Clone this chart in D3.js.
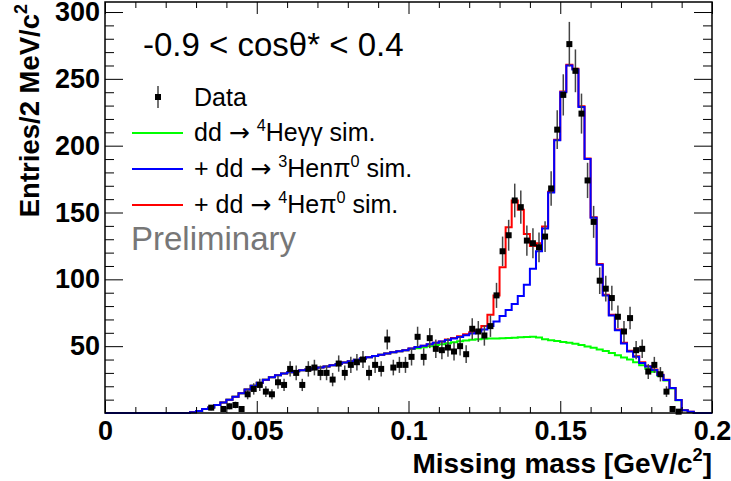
<html>
<head>
<meta charset="utf-8">
<title>Missing mass</title>
<style>
 body{margin:0;background:#fff;}
 text{font-family:'Liberation Sans', Arial, Helvetica, sans-serif;}
</style>
<script src="https://cdnjs.cloudflare.com/ajax/libs/d3/7.8.5/d3.min.js"></script>
</head>
<body>
<div id="plot"></div>
<script>
  // 100 bins of 2 MeV between 0 and 0.2 GeV
  var binWidth = 0.002, nBins = 100;

  // simulation histograms, bins 14..97 (all other bins are empty)
  var simFirstBin = 14;
  var sim4Hegg = [0.5,1.5,3,4.2,6,7.8,10,12.2,14.8,17.5,20.3,22.7,24.8,26.7,28.3,29.5,30.4,31.2,31.9,32.6,
    33.3,34,34.8,35.7,36.7,37.8,38.8,39.8,40.8,41.7,42.6,43.5,44.5,45.4,46.2,47,47.8,48.5,49.2,50,
    50.8,51.5,52.2,53,53.6,54.2,54.8,55.2,55.5,55.7,55.8,55.9,56.1,56.3,56.6,56.9,57,56.5,55.2,54.5,
    53.8,53.2,52.5,51.8,50.8,49.8,48.8,47.6,46.3,44.8,43.3,41.6,40,38,35.8,33.2,30.8,27.8,24.3,18.3,
    9.5,2,0.8,0];
  var sim3Henpi = [0.5,1.5,3,4.2,6,7.8,10,12.2,14.8,17.5,20.3,22.7,24.8,26.7,28.3,29.5,30.4,31.2,31.9,32.6,
    33.3,34,34.8,35.7,36.7,37.8,38.8,39.8,40.8,41.7,42.6,43.5,44.5,45.4,46.2,47,48.3,49.3,50.3,51.4,
    52.5,53.5,54.6,55.7,56.9,58.1,59.4,60.8,62.5,65,68.5,72.5,77,81.5,87.5,96,108,121,138,165,
    204,240,260,257,229,190,146,111,88,73,62,52,46,42,37.5,34.7,32.2,28.4,24.7,18.7,
    9.7,2,1,0];
  var sim4Hepi = [0.5,1.5,3,4.2,6,7.8,10,12.2,14.8,17.5,20.3,22.7,24.8,26.7,28.3,29.5,30.4,31.2,31.9,32.6,
    33.3,34,34.8,35.7,36.7,37.8,38.8,39.8,40.8,41.7,42.6,43.5,44.5,45.4,46.2,47,48.3,49.3,50.3,51.4,
    52.5,53.5,54.9,56.2,57.5,58.9,60.5,62,65,73.5,88,109,139,159,152,134,125,127,139.5,165.5,
    204.5,240.5,260.5,257.5,229.5,190.5,146.5,111.5,88.5,73.5,62.5,52.5,46.5,42.5,38,35,32.5,28.6,24.8,18.7,
    9.7,2,1,0];

  // data, bins 17..94 (null = empty bin)
  var dataFirstBin = 17;
  var dataCounts = [4,null,3,5,6,3,14,18,21,16,14,23,21,33,30,21,33,34,30,30,
    25,37,30,36,38,40,30,36,33,55,34,36,36,42,57,42,56,48,47,49,
    46,50,44,63,61,58,65,88,121,133,159,154,129,127,124,132,168,212,238,276,
    256,224,174,143,99,93,86,72,61,71,47,48,31,36,29,16,3,1];

  var xTicks = [0, 0.05, 0.1, 0.15, 0.2];
  var xTickLabels = ["0", "0.05", "0.1", "0.15", "0.2"];
  var yTicks = [50, 100, 150, 200, 250, 300];

  var w = 731, h = 481;
  var x = d3.scaleLinear().domain([0, 0.2]).range([105, 712]);
  var y = d3.scaleLinear().domain([0, 307.5]).range([413, 2]);

  var svg = d3.select("#plot").append("svg")
    .attr("width", w).attr("height", h);

  function fullBins(arr, first) {
    var out = [];
    for (var i = 0; i < nBins; i++) {
      var v = arr[i - first];
      out.push(v == null ? 0 : v);
    }
    return out;
  }

  var stepLine = d3.line()
    .x(function(d) { return x(d[0]); })
    .y(function(d) { return y(d[1]); })
    .curve(d3.curveStepAfter);

  function histPath(arr, color) {
    var vals = fullBins(arr, simFirstBin);
    var pts = vals.map(function(v, i) { return [i * binWidth, v]; });
    pts.push([nBins * binWidth, vals[nBins - 1]]);
    svg.append("path")
      .attr("d", stepLine(pts))
      .attr("fill", "none")
      .attr("stroke", color)
      .attr("stroke-width", 2);
  }

  histPath(sim4Hegg, "#00ff00");
  histPath(sim4Hepi, "#ff0000");
  histPath(sim3Henpi, "#0000ff");

  // data points with sqrt(N) errors
  var points = [];
  dataCounts.forEach(function(c, i) {
    if (c == null) return;
    points.push({ v: (dataFirstBin + i + 0.5) * binWidth, c: c });
  });
  var dg = svg.append("g");
  dg.selectAll("line").data(points).enter().append("line")
    .attr("x1", function(d) { return x(d.v); })
    .attr("x2", function(d) { return x(d.v); })
    .attr("y1", function(d) { return y(d.c + Math.sqrt(d.c)); })
    .attr("y2", function(d) { return y(Math.max(0, d.c - Math.sqrt(d.c))); })
    .attr("stroke", "#444").attr("stroke-width", 1.5);
  dg.selectAll("rect").data(points).enter().append("rect")
    .attr("x", function(d) { return x(d.v) - 3; })
    .attr("y", function(d) { return y(d.c) - 3; })
    .attr("width", 6).attr("height", 6)
    .attr("fill", "#000");

  // axes: ticks on all four sides, pointing inward
  var xMinor = d3.range(1, 20).filter(function(k) { return k % 5; }).map(function(k) { return k * 0.01; });
  var yMinor = d3.range(1, 31).filter(function(k) { return k % 5; }).map(function(k) { return k * 10; });

  function styleAxis(g) {
    g.select(".domain").remove();
    g.selectAll("line").attr("stroke", "#000").attr("stroke-width", 1);
    g.selectAll("text").attr("font-family", "'Liberation Sans', Arial, sans-serif")
      .attr("font-size", 27).attr("font-weight", "bold").attr("fill", "#000");
  }

  svg.append("g").attr("transform", "translate(0,413)")
    .call(d3.axisBottom(x).tickValues(xMinor).tickSizeInner(-6).tickSizeOuter(0).tickFormat(""))
    .call(styleAxis);
  svg.append("g").attr("transform", "translate(0,413)")
    .call(d3.axisBottom(x).tickValues(xTicks).tickSizeInner(-12).tickSizeOuter(0).tickPadding(8)
      .tickFormat(function(d, i) { return xTickLabels[i]; }))
    .call(styleAxis);
  svg.append("g").attr("transform", "translate(0,2)")
    .call(d3.axisTop(x).tickValues(xMinor).tickSizeInner(-6).tickSizeOuter(0).tickFormat(""))
    .call(styleAxis);
  svg.append("g").attr("transform", "translate(0,2)")
    .call(d3.axisTop(x).tickValues(xTicks).tickSizeInner(-12).tickSizeOuter(0).tickFormat(""))
    .call(styleAxis);

  svg.append("g").attr("transform", "translate(105,0)")
    .call(d3.axisLeft(y).tickValues(yMinor).tickSizeInner(-9).tickSizeOuter(0).tickFormat(""))
    .call(styleAxis);
  svg.append("g").attr("transform", "translate(105,0)")
    .call(d3.axisLeft(y).tickValues(yTicks).tickSizeInner(-18).tickSizeOuter(0).tickPadding(5))
    .call(styleAxis);
  svg.append("g").attr("transform", "translate(712,0)")
    .call(d3.axisRight(y).tickValues(yMinor).tickSizeInner(-9).tickSizeOuter(0).tickFormat(""))
    .call(styleAxis);
  svg.append("g").attr("transform", "translate(712,0)")
    .call(d3.axisRight(y).tickValues(yTicks).tickSizeInner(-18).tickSizeOuter(0).tickFormat(""))
    .call(styleAxis);

  svg.append("rect")
    .attr("x", 105).attr("y", 2).attr("width", 607).attr("height", 411)
    .attr("fill", "none").attr("stroke", "#000").attr("stroke-width", 1.5);

  // rich text: parts are [text, superscript?, font]
  function rich(sel, parts, size) {
    var spans = [];
    parts.forEach(function(p) {
      var t = sel.append("tspan").text(p[0]);
      if (p[1]) t.attr("font-size", size * 0.65).attr("dy", -size * 0.42);
      if (p[2]) t.attr("font-family", p[2]);
      spans.push(t);
    });
    for (var i = 1; i < spans.length; i++) {
      if (parts[i - 1][1] && !parts[i][1]) spans[i].attr("dy", size * 0.42);
    }
  }

  // axis titles
  var xt = svg.append("text").attr("x", 712).attr("y", 473)
    .attr("text-anchor", "end").attr("font-size", 28).attr("font-weight", "bold");
  rich(xt, [["Missing mass [GeV/c"], ["2", true], ["]"]], 28);

  var yt = svg.append("text").attr("transform", "translate(39,4) rotate(-90)")
    .attr("text-anchor", "end").attr("font-size", 27.5).attr("font-weight", "bold");
  rich(yt, [["Entries/2 MeV/c"], ["2", true]], 27.5);

  // title
  svg.append("text").attr("x", 143).attr("y", 56)
    .attr("font-size", 33).text("-0.9 < cos\u03b8* < 0.4");

  // legend
  var arrowFont = "'DejaVu Sans', sans-serif";
  svg.append("line").attr("x1", 158).attr("x2", 158).attr("y1", 86).attr("y2", 108)
    .attr("stroke", "#444").attr("stroke-width", 1.5);
  svg.append("rect").attr("x", 155).attr("y", 94).attr("width", 6).attr("height", 6).attr("fill", "#000");
  svg.append("text").attr("x", 194).attr("y", 106).attr("font-size", 25).text("Data");

  var legendRows = [
    { color: "#00ff00", y: 133, parts: [["dd "], ["\u2192", false, arrowFont], [" "], ["4", true], ["He\u03b3\u03b3 sim."]] },
    { color: "#0000ff", y: 169, parts: [["+ dd "], ["\u2192", false, arrowFont], [" "], ["3", true], ["Hen\u03c0"], ["0", true], [" sim."]] },
    { color: "#ff0000", y: 205, parts: [["+ dd "], ["\u2192", false, arrowFont], [" "], ["4", true], ["He\u03c0"], ["0", true], [" sim."]] }
  ];
  legendRows.forEach(function(r) {
    svg.append("line").attr("x1", 132).attr("x2", 183).attr("y1", r.y).attr("y2", r.y)
      .attr("stroke", r.color).attr("stroke-width", 2);
    var t = svg.append("text").attr("x", 194).attr("y", r.y + 8).attr("font-size", 25);
    rich(t, r.parts, 25);
  });

  svg.append("text").attr("x", 131).attr("y", 250)
    .attr("font-size", 33).attr("fill", "#777").text("Preliminary");
</script>
</body>
</html>
